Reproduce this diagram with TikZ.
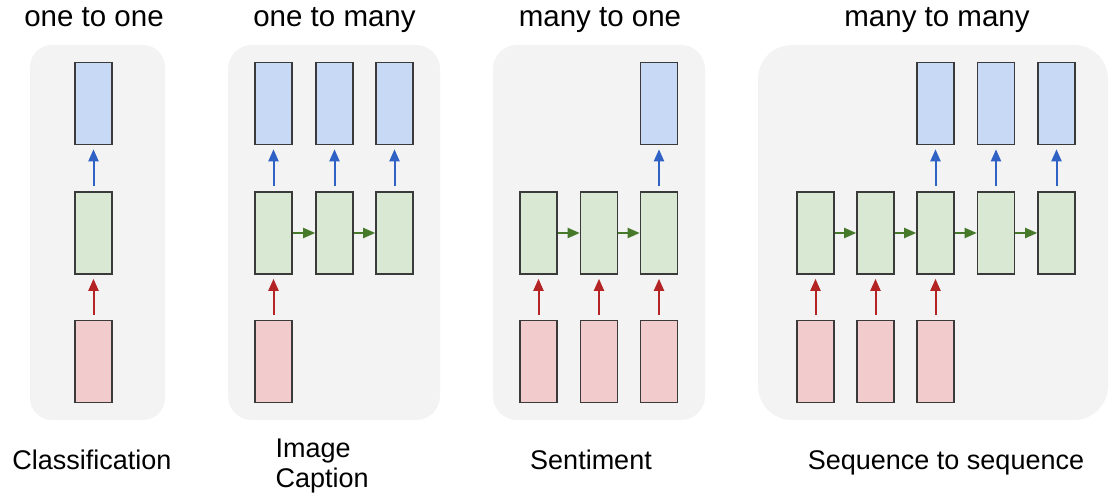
\documentclass[tikz,border=0pt]{standalone}
\usepackage{fontspec}
\setmainfont{Liberation Sans}
\usetikzlibrary{arrows.meta,calc}

\definecolor{panelgray}{HTML}{F3F3F3}
\definecolor{cellline}{HTML}{3A3A3A}
\definecolor{inred}{HTML}{F2CBCC}
\definecolor{hidgreen}{HTML}{D9E8D3}
\definecolor{outblue}{HTML}{C8D9F6}
\definecolor{redarrow}{HTML}{B52424}
\definecolor{bluearrow}{HTML}{2F62C4}
\definecolor{greenarrow}{HTML}{46792A}

\tikzset{
  cell/.style={draw=cellline, line width=1.6pt, minimum width=37pt,
    minimum height=82pt, inner sep=0pt},
  inbox/.style={cell, fill=inred},
  hidbox/.style={cell, fill=hidgreen},
  outbox/.style={cell, fill=outblue},
  panel/.style={fill=panelgray, draw=none},
  title/.style={anchor=base, font=\fontsize{29.5pt}{33pt}\selectfont},
  caption/.style={anchor=base, font=\fontsize{27pt}{30pt}\selectfont},
  vlink/.style={-{Triangle[length=12pt,width=10pt]}, line width=2pt,
    shorten <=5pt, shorten >=4pt},
  inlink/.style={vlink, draw=redarrow, fill=redarrow},
  outlink/.style={vlink, draw=bluearrow, fill=bluearrow},
  steplink/.style={-{Triangle[length=12pt,width=10pt]}, line width=2pt,
    draw=greenarrow, fill=greenarrow},
}

\begin{document}
\begin{tikzpicture}[x=1pt, y=-1pt]
  \useasboundingbox (0,0) rectangle (1109,502);
  \fill[white] (0,0) rectangle (1109,502);

  % grey panels behind each architecture
  \fill[panel, rounded corners=22pt] (30,45) rectangle (165,420);
  \fill[panel, rounded corners=24pt] (228,45) rectangle (440,420);
  \fill[panel, rounded corners=24pt] (493,45) rectangle (705,420);
  \fill[panel, rounded corners=34pt] (758,45) rectangle (1108,420);

  % titles
  \node[title] (t1) at (94,27) {one to one};
  \node[title] (t2) at (334.5,27) {one to many};
  \node[title] (t3) at (600,27) {many to one};
  \node[title] (t4) at (937,27) {many to many};

  % captions
  \node[caption] (c1) at (92,470) {Classification};
  \node[caption, anchor=base west] (c2a) at (272,458) {Image};
  \node[caption, anchor=base west] (c2b) at (272,487) {Caption};
  \node[caption] (c3) at (591,470) {Sentiment};
  \node[caption] (c4) at (946,470) {Sequence to sequence};

  % one to one
  \node[outbox] (a-o1) at (93.5,103.5) {};
  \node[hidbox] (a-h1) at (93.5,233) {};
  \node[inbox]  (a-i1) at (93.5,361.5) {};
  \draw[outlink] (a-h1.north) -- (a-o1.south);
  \draw[inlink]  (a-i1.north) -- (a-h1.south);

  % one to many
  \foreach \k/\x in {1/273.5,2/334.5,3/394.5} {
    \node[outbox] (b-o\k) at (\x,103.5) {};
    \node[hidbox] (b-h\k) at (\x,233) {};
    \draw[outlink] (b-h\k.north) -- (b-o\k.south);
  }
  \node[inbox] (b-i1) at (273.5,361.5) {};
  \draw[inlink] (b-i1.north) -- (b-h1.south);
  \draw[steplink] (b-h1.east) -- (b-h2.west);
  \draw[steplink] (b-h2.east) -- (b-h3.west);

  % many to one
  \foreach \k/\x in {1/538.5,2/599,3/659} {
    \node[hidbox] (c-h\k) at (\x,233) {};
    \node[inbox]  (c-i\k) at (\x,361.5) {};
    \draw[inlink] (c-i\k.north) -- (c-h\k.south);
  }
  \node[outbox] (c-o3) at (659,103.5) {};
  \draw[outlink] (c-h3.north) -- (c-o3.south);
  \draw[steplink] (c-h1.east) -- (c-h2.west);
  \draw[steplink] (c-h2.east) -- (c-h3.west);

  % many to many
  \foreach \k/\x in {1/815.5,2/875.5,3/935.5,4/996,5/1056.5} {
    \node[hidbox] (d-h\k) at (\x,233) {};
  }
  \foreach \k in {1,2,3} {
    \node[inbox] (d-i\k) at ($(d-h\k)+(0,128.5)$) {};
    \draw[inlink] (d-i\k.north) -- (d-h\k.south);
  }
  \foreach \k in {3,4,5} {
    \node[outbox] (d-o\k) at ($(d-h\k)+(0,-129.5)$) {};
    \draw[outlink] (d-h\k.north) -- (d-o\k.south);
  }
  \foreach \k/\n in {1/2,2/3,3/4,4/5} {
    \draw[steplink] (d-h\k.east) -- (d-h\n.west);
  }
\end{tikzpicture}
\end{document}
